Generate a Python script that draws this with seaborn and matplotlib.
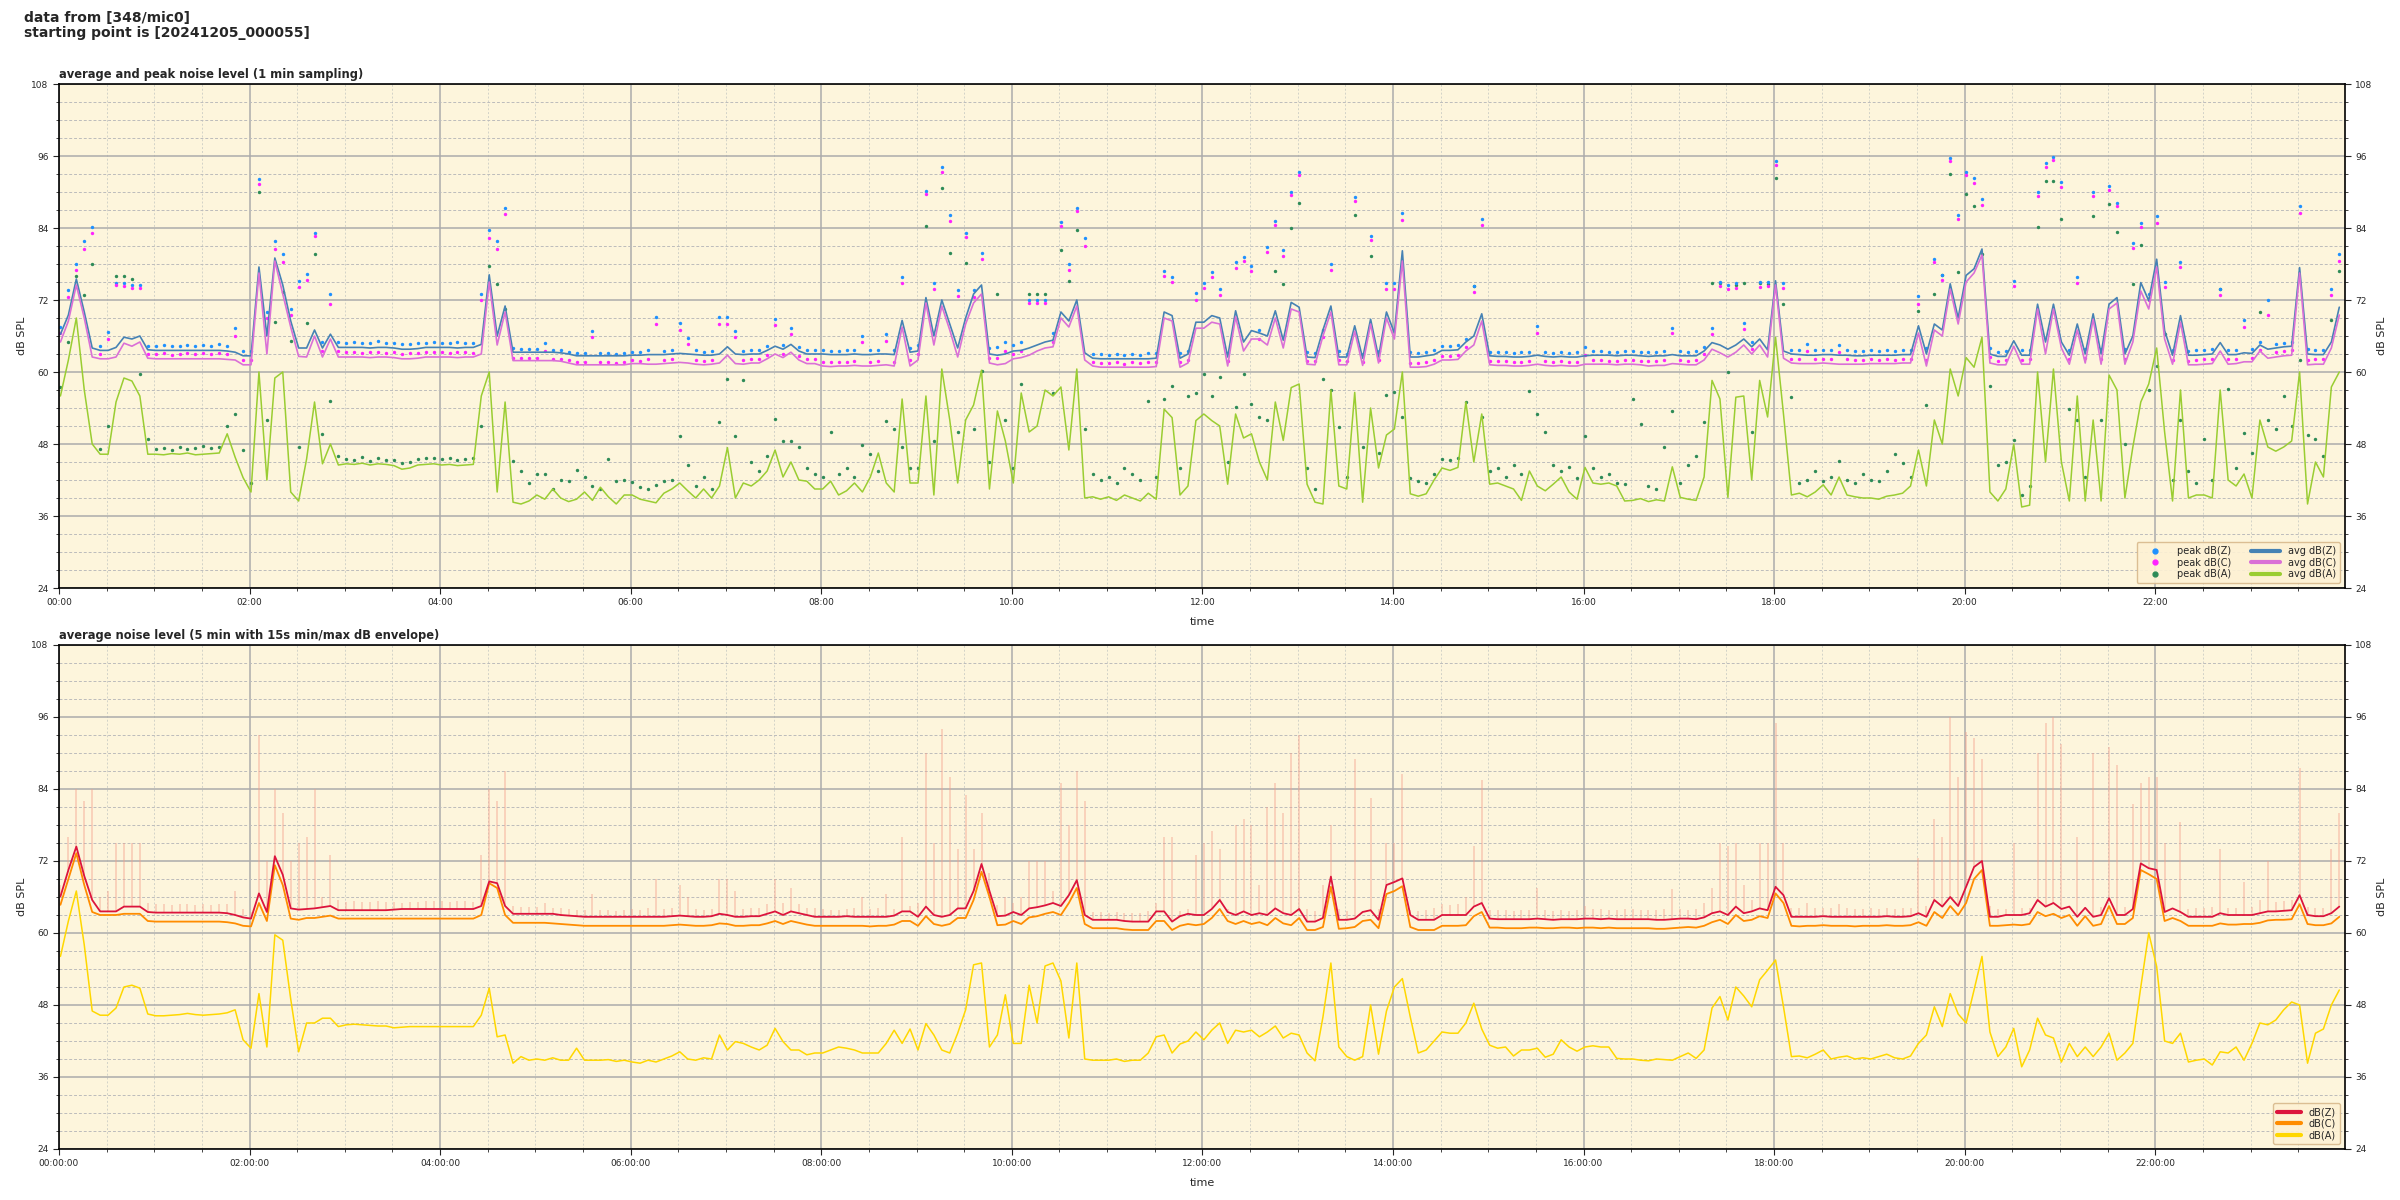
import numpy as np
import pandas as pd
import matplotlib
matplotlib.use("Agg")
import matplotlib.pyplot as plt
import matplotlib.dates as mdates
from matplotlib.ticker import MultipleLocator
from matplotlib.lines import Line2D
import seaborn as sns

sns.set_style("ticks")
plt.rcParams['font.family'] = ['DejaVu Sans']

# ---------------- data (5-minute bins from 00:00:55) ----------------
START = "2024-12-05 00:00:55"

AVG_Z = [
 66.3, 69.5, 75.5, 70.0, 64.0, 63.6, 63.6, 64.1, 65.8, 65.5, 66.0, 63.7,
 63.6, 63.6, 63.6, 63.6, 63.6, 63.6, 63.6, 63.6, 63.6, 63.5, 63.3, 62.7,
 62.7, 77.5, 66.0, 79.0, 74.5, 68.5, 64.0, 64.0, 67.0, 64.0, 66.3, 64.1,
 64.1, 64.1, 64.1, 64.0, 64.1, 64.1, 64.0, 63.8, 63.8, 63.9, 64.1, 64.1,
 64.1, 64.1, 64.0, 64.1, 64.1, 64.6, 76.2, 66.0, 71.0, 63.3, 63.3, 63.3,
 63.3, 63.3, 63.3, 63.2, 63.0, 62.7, 62.7, 62.7, 62.7, 62.7, 62.7, 62.7,
 62.8, 62.8, 62.9, 62.9, 62.9, 63.0, 63.1, 63.0, 62.9, 62.8, 62.8, 63.0,
 64.2, 63.0, 62.9, 63.0, 63.0, 63.6, 64.3, 63.8, 64.6, 63.5, 63.0, 63.0,
 63.0, 62.9, 62.9, 62.9, 63.0, 62.9, 62.9, 63.0, 63.0, 62.9, 68.6, 63.3,
 63.5, 72.4, 66.0, 72.0, 68.0, 64.0, 69.0, 73.0, 74.5, 63.0, 62.8, 63.0,
 63.5, 63.6, 64.0, 64.5, 65.0, 65.3, 70.0, 68.5, 72.0, 63.2, 62.3, 62.2,
 62.2, 62.2, 62.2, 62.2, 62.2, 62.2, 62.3, 70.0, 69.4, 62.3, 63.0, 68.3,
 68.3, 69.4, 69.0, 62.5, 70.2, 65.0, 66.9, 66.5, 66.0, 70.2, 65.3, 71.6,
 70.8, 62.5, 62.4, 67.0, 71.0, 62.5, 62.5, 67.7, 62.3, 68.8, 62.5, 70.0,
 66.5, 80.2, 62.5, 62.5, 62.7, 62.9, 63.6, 63.6, 63.7, 65.0, 66.0, 69.7,
 62.7, 62.6, 62.6, 62.5, 62.5, 62.6, 62.8, 62.6, 62.5, 62.6, 62.5, 62.5,
 62.7, 62.8, 62.8, 62.8, 62.7, 62.8, 62.8, 62.7, 62.6, 62.7, 62.7, 62.9,
 62.7, 62.7, 62.7, 63.5, 64.9, 64.5, 63.8, 64.5, 65.5, 64.2, 65.5, 63.7,
 75.2, 63.5, 63.0, 62.9, 62.8, 62.8, 62.9, 62.9, 62.8, 62.8, 62.7, 62.7,
 62.8, 62.8, 62.8, 62.8, 62.9, 62.9, 67.7, 63.0, 68.0, 67.0, 74.7, 69.0,
 76.1, 77.2, 80.5, 63.0, 62.6, 62.6, 65.2, 62.8, 62.8, 71.3, 65.0, 71.3,
 65.0, 62.8, 68.0, 63.0, 69.7, 63.0, 71.3, 72.4, 63.0, 66.0, 74.9, 71.9,
 78.8, 66.9, 62.8, 69.4, 62.8, 62.8, 62.9, 63.0, 64.9, 62.9, 62.9, 63.2,
 63.1, 64.5, 63.8, 64.0, 64.2, 64.3, 77.4, 63.0, 62.9, 62.9, 65.0, 70.8,
]

AVG_C = [
 65.0, 68.5, 74.5, 69.0, 62.5, 62.2, 62.2, 62.5, 64.8, 64.3, 65.0, 62.3,
 62.2, 62.2, 62.2, 62.2, 62.2, 62.2, 62.2, 62.2, 62.2, 62.1, 62.0, 61.2,
 61.2, 76.5, 63.0, 78.5, 73.0, 67.5, 62.6, 62.5, 66.0, 62.5, 65.5, 62.5,
 62.5, 62.5, 62.5, 62.4, 62.5, 62.5, 62.4, 62.2, 62.2, 62.3, 62.5, 62.5,
 62.5, 62.5, 62.4, 62.5, 62.5, 63.0, 75.0, 64.5, 70.0, 61.9, 61.9, 61.9,
 61.9, 61.9, 61.9, 61.8, 61.5, 61.2, 61.2, 61.2, 61.2, 61.2, 61.2, 61.2,
 61.4, 61.4, 61.3, 61.3, 61.4, 61.5, 61.6, 61.5, 61.3, 61.2, 61.3, 61.5,
 62.8, 61.4, 61.3, 61.5, 61.5, 62.2, 63.0, 62.4, 63.3, 62.0, 61.4, 61.4,
 61.0, 60.9, 61.0, 61.0, 61.1, 61.0, 61.0, 61.1, 61.2, 61.0, 67.5, 61.0,
 62.0, 71.5, 64.5, 71.0, 67.0, 62.5, 68.0, 71.5, 73.0, 61.5, 61.2, 61.4,
 62.2, 62.4, 62.8, 63.5, 64.0, 64.2, 69.0, 67.5, 71.0, 62.0, 61.0, 60.8,
 60.8, 60.8, 60.8, 60.8, 60.8, 60.8, 60.9, 69.0, 68.5, 60.8, 61.5, 67.3,
 67.3, 68.3, 68.0, 61.0, 69.2, 63.5, 65.5, 65.5, 64.5, 69.0, 64.0, 70.5,
 70.0, 61.3, 61.2, 66.0, 70.0, 61.2, 61.2, 66.8, 61.1, 68.0, 61.5, 69.0,
 65.5, 78.5, 60.8, 60.8, 60.9, 61.3, 62.0, 62.0, 62.1, 63.5, 64.5, 68.5,
 61.2, 61.1, 61.1, 61.0, 61.0, 61.1, 61.3, 61.1, 61.0, 61.1, 61.0, 61.0,
 61.3, 61.3, 61.3, 61.3, 61.2, 61.3, 61.3, 61.2, 61.0, 61.1, 61.1, 61.4,
 61.3, 61.2, 61.2, 62.0, 63.8, 63.2, 62.5, 63.3, 64.5, 63.0, 64.5, 62.5,
 74.5, 62.3, 61.5, 61.4, 61.4, 61.4, 61.5, 61.4, 61.3, 61.3, 61.3, 61.3,
 61.4, 61.4, 61.4, 61.4, 61.5, 61.5, 66.5, 61.0, 67.0, 66.0, 73.8, 68.0,
 75.0, 76.5, 79.5, 61.5, 61.2, 61.2, 64.3, 61.3, 61.3, 70.5, 63.0, 70.5,
 64.0, 61.3, 67.0, 61.5, 68.8, 61.3, 70.5, 71.5, 61.3, 65.0, 73.5, 70.5,
 77.5, 65.5, 61.3, 68.3, 61.2, 61.2, 61.3, 61.4, 63.5, 61.3, 61.4, 61.7,
 61.7, 63.5, 62.3, 62.5, 62.7, 62.8, 76.5, 61.2, 61.3, 61.3, 64.0, 69.5,
]

AVG_A = [
 56.0, 62.0, 69.0, 57.0, 48.0, 46.3, 46.3, 55.0, 59.0, 58.5, 56.0, 46.3,
 46.3, 46.2, 46.4, 46.3, 46.5, 46.2, 46.3, 46.4, 46.5, 49.7, 45.8, 42.4,
 40.0, 60.0, 42.0, 59.0, 60.0, 40.0, 38.5, 45.5, 55.0, 44.7, 48.0, 44.5,
 44.7, 44.6, 44.8, 44.5, 44.7, 44.6, 44.4, 43.8, 44.0, 44.5, 44.6, 44.7,
 44.5, 44.6, 44.4, 44.5, 44.6, 56.0, 60.0, 40.0, 55.0, 38.3, 38.0, 38.5,
 39.5, 38.8, 40.5, 39.0, 38.4, 38.8, 40.0, 38.6, 40.8, 39.2, 38.0, 39.5,
 39.5, 38.8, 38.5, 38.2, 39.8, 40.5, 41.5, 40.2, 39.0, 40.5, 39.0, 41.0,
 47.4, 39.0, 41.5, 41.0, 42.0, 43.5, 47.0, 42.5, 45.0, 42.0, 41.8, 40.5,
 40.5, 41.8, 39.5, 40.2, 41.5, 40.0, 42.5, 46.5, 41.5, 40.0, 55.5, 41.5,
 41.5, 56.0, 39.5, 60.5, 52.0, 41.5, 52.0, 54.5, 60.3, 40.5, 53.5, 48.5,
 41.5, 56.5, 50.0, 51.0, 57.0, 56.0, 57.5, 47.0, 60.5, 39.0, 39.2, 38.8,
 39.2, 38.6, 39.5, 39.0, 38.5, 39.8, 38.8, 53.8, 52.4, 39.5, 41.0, 51.9,
 53.0, 51.9, 51.0, 41.3, 53.0, 49.0, 49.7, 45.0, 42.0, 55.0, 48.6, 57.4,
 58.0, 41.3, 38.3, 38.0, 57.0, 41.0, 40.5, 56.6, 38.3, 54.0, 44.0, 49.5,
 50.5, 60.0, 39.7, 39.3, 39.7, 42.0, 44.0, 43.6, 44.1, 55.0, 45.0, 53.0,
 41.3, 41.5, 41.0, 40.5, 38.6, 43.5, 41.0, 40.2, 41.3, 42.5, 40.0, 38.8,
 44.1, 41.5, 41.3, 41.5, 41.0, 38.5, 38.6, 38.9, 38.4, 38.7, 38.5, 44.2,
 39.1, 38.8, 38.6, 42.5, 58.6, 55.5, 39.1, 55.8, 56.0, 42.0, 58.6, 52.5,
 65.8, 53.0, 39.5, 39.8, 39.2, 40.0, 41.2, 39.5, 42.5, 39.5, 39.2, 39.0,
 39.0, 38.8, 39.3, 39.5, 39.8, 41.0, 47.0, 41.0, 52.0, 48.0, 60.5, 56.0,
 62.4, 60.8, 65.8, 40.0, 38.5, 40.5, 48.0, 37.5, 37.8, 60.0, 45.0, 60.5,
 45.0, 38.5, 56.0, 38.5, 52.0, 38.5, 59.5, 57.0, 39.0, 47.5, 55.0, 58.0,
 64.0, 50.0, 38.5, 57.0, 39.0, 39.5, 39.5, 39.0, 57.0, 42.0, 41.0, 43.0,
 39.0, 52.0, 47.5, 46.8, 47.5, 48.5, 60.0, 38.0, 45.0, 42.5, 57.5, 60.0,
]

PEAK_Z = [
 67.5, 73.6, 78.0, 81.9, 84.1, 64.4, 66.6, 74.9, 74.8, 74.5, 74.5, 64.4,
 64.4, 64.5, 64.3, 64.4, 64.5, 64.4, 64.5, 64.4, 64.6, 64.4, 67.3, 63.5,
 63.5, 92.2, 70.0, 81.9, 79.7, 70.5, 75.2, 76.3, 83.2, 65.0, 73.0, 65.0,
 64.9, 65.0, 64.8, 64.9, 65.1, 64.8, 64.9, 64.6, 64.7, 64.8, 64.9, 65.0,
 64.9, 64.8, 65.0, 64.9, 64.8, 73.0, 83.6, 81.9, 87.4, 64.0, 63.8, 63.9,
 63.8, 64.8, 63.7, 63.6, 63.4, 63.1, 63.1, 66.9, 63.2, 63.1, 63.0, 63.1,
 63.4, 63.3, 63.6, 69.2, 63.5, 63.6, 68.2, 65.7, 63.6, 63.4, 63.5, 69.1,
 69.1, 66.9, 63.5, 63.6, 63.7, 64.3, 68.8, 64.5, 67.4, 64.2, 63.6, 63.7,
 63.6, 63.5, 63.5, 63.6, 63.7, 66.0, 63.6, 63.7, 66.4, 63.6, 75.9, 64.0,
 64.5, 90.2, 74.8, 94.2, 86.2, 73.6, 83.2, 73.6, 79.8, 64.0, 64.2, 65.0,
 64.5, 65.0, 72.0, 72.0, 72.0, 66.5, 85.0, 78.0, 87.4, 82.3, 63.0, 63.0,
 62.9, 63.0, 62.8, 63.0, 62.9, 63.1, 63.2, 76.8, 75.9, 63.2, 63.5, 73.1,
 74.9, 76.6, 73.8, 63.2, 78.3, 79.1, 77.7, 67.0, 80.8, 85.2, 80.3, 90.0,
 93.4, 63.3, 63.1, 67.0, 78.0, 63.5, 63.0, 89.1, 63.0, 82.6, 63.5, 74.8,
 74.8, 86.5, 63.3, 63.2, 63.4, 63.7, 64.4, 64.3, 64.5, 65.5, 74.4, 85.5,
 63.3, 63.4, 63.3, 63.2, 63.3, 63.3, 67.6, 63.3, 63.2, 63.4, 63.2, 63.3,
 64.1, 63.5, 63.5, 63.4, 63.4, 63.5, 63.5, 63.4, 63.3, 63.4, 63.5, 67.3,
 63.5, 63.4, 63.5, 64.2, 67.3, 75.0, 74.5, 74.8, 68.1, 65.0, 75.0, 75.0,
 95.1, 74.9, 63.7, 63.6, 64.7, 63.6, 63.7, 63.6, 64.5, 63.6, 63.5, 63.5,
 63.6, 63.5, 63.6, 63.5, 63.6, 63.7, 72.7, 64.0, 78.8, 76.2, 95.7, 86.2,
 93.4, 92.3, 88.8, 64.0, 63.4, 63.5, 75.2, 63.6, 63.6, 90.0, 94.9, 95.9,
 91.6, 63.7, 75.8, 63.8, 90.0, 63.8, 91.0, 88.2, 63.8, 81.5, 84.8, 73.0,
 86.0, 75.0, 63.6, 78.4, 63.5, 63.6, 63.7, 63.8, 73.8, 63.7, 63.7, 68.6,
 63.9, 65.0, 72.0, 64.7, 64.9, 65.0, 87.7, 63.8, 63.7, 63.7, 73.8, 79.7,
]

PEAK_C = [
 66.5, 72.5, 77.0, 80.5, 83.2, 63.0, 65.5, 74.5, 74.3, 74.0, 74.0, 63.0,
 63.0, 63.1, 62.9, 63.0, 63.1, 63.0, 63.1, 63.0, 63.2, 63.0, 66.0, 62.0,
 62.0, 91.4, 69.0, 80.5, 78.3, 69.5, 74.2, 75.3, 82.6, 63.5, 71.4, 63.5,
 63.3, 63.4, 63.2, 63.3, 63.4, 63.2, 63.3, 63.0, 63.1, 63.2, 63.3, 63.4,
 63.3, 63.2, 63.4, 63.3, 63.2, 72.0, 82.3, 80.5, 86.4, 62.4, 62.3, 62.4,
 62.3, 63.5, 62.2, 62.2, 62.0, 61.7, 61.6, 65.8, 61.7, 61.6, 61.5, 61.6,
 62.0, 61.9, 62.1, 68.0, 62.0, 62.1, 67.0, 64.6, 62.0, 61.9, 62.0, 68.0,
 68.0, 65.8, 62.0, 62.1, 62.2, 62.8, 67.8, 63.0, 66.3, 62.7, 62.1, 62.2,
 61.7, 61.6, 61.7, 61.7, 61.8, 65.0, 61.7, 61.8, 65.2, 61.7, 74.8, 62.0,
 63.0, 89.7, 73.8, 93.3, 85.2, 72.6, 82.5, 72.5, 78.8, 62.3, 62.4, 63.5,
 63.0, 63.5, 71.5, 71.5, 71.5, 65.0, 84.4, 77.0, 86.8, 81.0, 61.6, 61.5,
 61.5, 61.6, 61.4, 61.6, 61.5, 61.7, 61.7, 76.0, 75.0, 61.7, 62.0, 72.0,
 74.0, 75.8, 72.8, 61.8, 77.3, 78.5, 76.8, 65.5, 80.0, 84.5, 79.3, 89.5,
 92.8, 61.9, 61.8, 65.8, 77.0, 62.0, 61.8, 88.5, 61.7, 82.0, 62.0, 73.8,
 73.8, 85.3, 61.5, 61.5, 61.6, 62.0, 62.7, 62.7, 62.8, 64.2, 73.4, 84.5,
 61.8, 61.8, 61.8, 61.7, 61.7, 61.8, 66.5, 61.8, 61.7, 61.8, 61.7, 61.7,
 62.8, 62.0, 62.0, 61.9, 61.9, 62.0, 62.0, 61.9, 61.8, 61.9, 62.0, 66.5,
 62.0, 61.9, 62.0, 63.0, 66.3, 74.3, 73.8, 74.0, 67.2, 63.8, 74.2, 74.3,
 94.5, 74.0, 62.2, 62.1, 63.5, 62.1, 62.2, 62.1, 63.3, 62.1, 62.0, 62.0,
 62.1, 62.0, 62.1, 62.0, 62.1, 62.2, 71.3, 62.0, 78.3, 75.3, 95.1, 85.5,
 92.8, 91.5, 87.8, 62.5, 61.9, 62.0, 74.3, 62.0, 62.1, 89.4, 94.2, 95.3,
 90.8, 62.1, 74.8, 62.3, 89.3, 62.2, 90.4, 87.6, 62.2, 80.7, 84.1, 72.0,
 84.8, 74.2, 62.0, 77.5, 61.9, 62.0, 62.1, 62.2, 72.8, 62.1, 62.2, 67.5,
 62.4, 63.7, 69.5, 63.3, 63.5, 63.6, 86.5, 62.0, 62.1, 62.1, 72.8, 78.5,
]

PEAK_A = [
 57.5, 65.0, 76.0, 72.8, 78.0, 47.2, 51.0, 76.0, 76.0, 75.5, 59.7, 48.8,
 47.2, 47.3, 47.0, 47.5, 47.2, 47.4, 47.6, 47.3, 47.5, 51.0, 53.0, 47.0,
 41.5, 90.0, 52.0, 68.3, 73.3, 65.2, 47.5, 68.1, 79.7, 49.7, 55.2, 46.0,
 45.5, 45.3, 45.8, 45.2, 45.6, 45.4, 45.3, 44.8, 45.0, 45.5, 45.6, 45.7,
 45.5, 45.6, 45.3, 45.5, 45.6, 51.0, 77.7, 74.7, 70.5, 45.2, 43.5, 41.5,
 43.0, 43.0, 40.5, 42.0, 41.8, 43.6, 42.5, 41.0, 40.5, 45.5, 41.8, 42.0,
 41.6, 40.8, 40.5, 41.2, 41.8, 42.0, 49.4, 44.5, 41.0, 42.5, 40.5, 51.6,
 58.8, 49.4, 58.6, 45.0, 43.5, 46.0, 52.2, 48.5, 48.5, 47.5, 44.0, 43.0,
 42.5, 50.0, 43.0, 44.0, 42.5, 47.8, 46.3, 43.5, 51.9, 50.5, 47.5, 44.0,
 44.0, 84.3, 48.5, 90.6, 79.9, 50.0, 78.2, 50.5, 60.2, 45.0, 73.0, 52.0,
 44.0, 58.0, 73.0, 73.0, 73.0, 56.5, 80.4, 75.2, 83.6, 50.5, 43.0, 42.0,
 42.5, 41.5, 44.0, 43.0, 42.0, 55.2, 42.5, 55.5, 57.7, 44.0, 56.0, 56.5,
 59.7, 56.0, 59.1, 45.0, 54.1, 59.7, 54.7, 52.5, 52.0, 76.9, 74.7, 84.0,
 88.1, 44.0, 40.5, 58.8, 57.0, 50.8, 42.5, 86.2, 47.5, 79.3, 46.5, 56.1,
 56.6, 52.5, 42.4, 41.8, 41.5, 43.0, 45.5, 45.3, 45.6, 55.0, 74.4, 52.5,
 43.5, 44.0, 42.5, 44.5, 43.0, 56.9, 53.0, 50.0, 44.5, 43.5, 44.2, 42.4,
 49.4, 44.0, 42.5, 43.0, 41.5, 41.3, 55.5, 51.3, 41.0, 40.5, 47.5, 53.5,
 41.5, 44.5, 46.0, 51.6, 74.9, 74.9, 60.0, 74.5, 74.9, 50.0, 74.9, 74.7,
 92.4, 71.3, 55.8, 41.5, 42.0, 43.5, 41.8, 42.5, 45.2, 42.0, 41.5, 43.0,
 42.0, 41.8, 43.5, 46.3, 44.8, 42.5, 70.2, 54.5, 73.0, 76.2, 93.0, 76.6,
 89.7, 87.7, 79.7, 57.7, 44.5, 45.0, 48.6, 39.5, 41.0, 84.1, 91.9, 91.8,
 85.5, 53.8, 52.0, 42.5, 86.0, 52.0, 88.0, 83.3, 48.0, 74.7, 81.2, 57.0,
 61.0, 66.3, 42.0, 52.0, 43.5, 41.5, 48.8, 42.0, 73.8, 57.2, 44.0, 49.9,
 46.5, 70.0, 52.0, 50.5, 56.0, 51.0, 62.0, 49.5, 48.8, 46.0, 68.6, 76.9,
]

# bottom panel: 5 min averages and 15 s max envelope
Z5 = [
 66.1, 70.5, 74.4, 69.5, 65.5, 63.6, 63.6, 63.6, 64.4, 64.4, 64.4, 63.5,
 63.4, 63.4, 63.4, 63.4, 63.4, 63.4, 63.4, 63.4, 63.4, 63.3, 63.0, 62.6,
 62.4, 66.6, 63.5, 72.8, 69.7, 64.1, 63.9, 64.0, 64.1, 64.3, 64.5, 63.8,
 63.8, 63.8, 63.8, 63.8, 63.8, 63.8, 63.9, 64.0, 64.0, 64.0, 64.0, 64.0,
 64.0, 64.0, 64.0, 64.0, 64.0, 64.5, 68.6, 68.3, 64.5, 63.2, 63.2, 63.2,
 63.2, 63.2, 63.2, 63.0, 62.9, 62.8, 62.7, 62.7, 62.7, 62.7, 62.7, 62.7,
 62.7, 62.7, 62.7, 62.7, 62.7, 62.8, 62.9, 62.8, 62.7, 62.7, 62.8, 63.2,
 63.0, 62.7, 62.7, 62.8, 62.8, 63.2, 63.6, 63.0, 63.6, 63.3, 63.0, 62.7,
 62.7, 62.7, 62.7, 62.8, 62.7, 62.7, 62.7, 62.7, 62.7, 62.9, 63.6, 63.6,
 62.7, 64.4, 63.0, 62.7, 63.0, 64.1, 64.1, 67.0, 71.5, 67.0, 62.8, 62.9,
 63.5, 63.0, 64.1, 64.3, 64.6, 65.0, 64.5, 66.3, 68.8, 63.0, 62.2, 62.2,
 62.2, 62.2, 62.0, 61.9, 61.9, 61.9, 63.6, 63.6, 61.9, 62.8, 63.2, 63.0,
 63.0, 64.0, 65.5, 63.5, 63.0, 63.6, 63.0, 63.3, 63.0, 64.1, 63.3, 63.0,
 64.0, 61.9, 61.9, 62.5, 69.4, 62.2, 62.2, 62.4, 63.5, 63.8, 62.2, 68.0,
 68.5, 69.1, 63.0, 62.2, 62.2, 62.2, 63.0, 63.0, 63.0, 63.0, 64.4, 65.0,
 62.4, 62.3, 62.3, 62.3, 62.3, 62.3, 62.4, 62.3, 62.2, 62.3, 62.3, 62.3,
 62.4, 62.4, 62.3, 62.4, 62.3, 62.3, 62.3, 62.3, 62.3, 62.2, 62.2, 62.3,
 62.4, 62.4, 62.3, 62.6, 63.3, 63.6, 63.0, 64.4, 63.3, 63.6, 64.1, 63.8,
 67.7, 66.3, 62.7, 62.7, 62.7, 62.7, 62.8, 62.7, 62.7, 62.7, 62.7, 62.7,
 62.7, 62.7, 62.8, 62.7, 62.7, 62.8, 63.3, 62.7, 65.5, 64.4, 66.0, 64.5,
 67.7, 71.0, 72.0, 62.7, 62.7, 63.0, 63.0, 63.0, 63.3, 65.5, 64.4, 65.0,
 64.0, 64.4, 62.7, 64.2, 62.7, 63.0, 65.8, 63.0, 63.0, 64.0, 71.6, 70.8,
 70.5, 63.5, 64.1, 63.5, 62.7, 62.7, 62.7, 62.7, 63.3, 63.0, 63.0, 63.0,
 63.0, 63.3, 63.6, 63.6, 63.7, 63.8, 66.3, 63.0, 62.8, 62.8, 63.3, 64.4,
]

C5 = [
 64.7, 69.0, 73.3, 68.0, 63.5, 63.0, 63.0, 63.0, 63.2, 63.2, 63.2, 62.0,
 61.9, 61.9, 61.9, 61.9, 61.9, 61.9, 61.9, 61.9, 61.9, 61.8, 61.6, 61.2,
 61.1, 65.0, 62.0, 71.3, 68.0, 62.4, 62.2, 62.5, 62.5, 62.7, 62.9, 62.4,
 62.4, 62.4, 62.4, 62.4, 62.4, 62.4, 62.4, 62.4, 62.4, 62.4, 62.4, 62.4,
 62.4, 62.4, 62.4, 62.4, 62.4, 63.0, 68.3, 67.5, 63.0, 61.7, 61.7, 61.7,
 61.7, 61.7, 61.6, 61.5, 61.4, 61.3, 61.2, 61.2, 61.2, 61.2, 61.2, 61.2,
 61.2, 61.2, 61.2, 61.2, 61.2, 61.3, 61.4, 61.3, 61.2, 61.2, 61.3, 61.6,
 61.5, 61.2, 61.2, 61.3, 61.3, 61.6, 62.0, 61.5, 62.0, 61.7, 61.4, 61.2,
 61.2, 61.2, 61.2, 61.2, 61.2, 61.2, 61.1, 61.2, 61.2, 61.4, 62.0, 62.0,
 61.2, 62.8, 61.5, 61.2, 61.5, 62.5, 62.5, 65.5, 70.2, 66.0, 61.3, 61.4,
 62.0, 61.5, 62.6, 62.8, 63.2, 63.5, 63.0, 65.0, 67.5, 61.5, 60.8, 60.8,
 60.8, 60.8, 60.6, 60.5, 60.5, 60.5, 62.0, 62.0, 60.5, 61.2, 61.5, 61.3,
 61.5, 62.5, 64.0, 62.0, 61.5, 62.0, 61.5, 61.8, 61.3, 62.5, 61.6, 61.3,
 62.5, 60.5, 60.5, 61.0, 67.7, 60.7, 60.8, 61.0, 62.0, 62.2, 60.8, 66.5,
 67.0, 67.8, 61.0, 60.5, 60.5, 60.5, 61.2, 61.2, 61.2, 61.3, 62.8, 63.5,
 60.9, 60.9, 60.8, 60.8, 60.8, 60.9, 60.9, 60.8, 60.8, 60.9, 60.9, 60.8,
 60.9, 60.9, 60.8, 60.9, 60.8, 60.8, 60.8, 60.8, 60.8, 60.7, 60.7, 60.8,
 60.9, 61.0, 60.9, 61.2, 61.8, 62.2, 61.5, 63.0, 62.0, 62.2, 62.8, 62.5,
 66.6, 65.0, 61.2, 61.1, 61.2, 61.2, 61.3, 61.2, 61.2, 61.2, 61.1, 61.2,
 61.2, 61.2, 61.3, 61.2, 61.2, 61.3, 61.8, 61.2, 63.5, 62.5, 64.5, 63.0,
 65.0, 69.0, 70.5, 61.2, 61.2, 61.3, 61.4, 61.3, 61.5, 63.5, 62.8, 63.2,
 62.5, 63.0, 61.2, 62.8, 61.2, 61.5, 64.5, 61.5, 61.5, 62.5, 70.5, 69.8,
 69.0, 62.0, 62.5, 62.0, 61.2, 61.2, 61.2, 61.2, 61.6, 61.4, 61.4, 61.5,
 61.5, 61.7, 62.1, 62.2, 62.2, 62.3, 64.8, 61.5, 61.3, 61.3, 61.6, 62.7,
]

A5 = [
 56.1, 62.0, 67.0, 58.0, 47.0, 46.3, 46.3, 47.5, 51.0, 51.3, 50.8, 46.5,
 46.2, 46.2, 46.3, 46.4, 46.6, 46.4, 46.3, 46.4, 46.5, 46.7, 47.2, 42.2,
 40.8, 49.9, 41.0, 59.7, 58.8, 49.0, 40.2, 45.0, 45.0, 45.8, 45.8, 44.4,
 44.7, 44.8, 44.7, 44.6, 44.5, 44.5, 44.2, 44.3, 44.4, 44.4, 44.4, 44.4,
 44.4, 44.4, 44.4, 44.4, 44.4, 46.3, 50.8, 42.7, 43.0, 38.3, 39.4, 38.8,
 39.0, 38.8, 39.2, 38.8, 38.8, 40.8, 38.8, 38.8, 38.8, 38.9, 38.6, 38.8,
 38.5, 38.3, 38.8, 38.5, 39.0, 39.5, 40.2, 39.0, 38.8, 39.2, 39.0, 43.0,
 40.5, 41.9, 41.6, 41.0, 40.5, 41.3, 44.1, 41.9, 40.5, 40.5, 39.7, 40.0,
 40.0, 40.5, 41.0, 40.8, 40.5, 40.0, 40.0, 40.0, 41.6, 43.8, 41.6, 44.0,
 40.5, 44.9, 43.0, 40.5, 40.0, 43.3, 47.2, 54.7, 55.0, 41.0, 43.0, 49.7,
 41.6, 41.6, 51.3, 45.0, 54.5, 55.0, 52.0, 42.5, 55.0, 39.0, 38.8, 38.8,
 38.8, 39.0, 38.6, 38.8, 38.8, 40.0, 42.7, 43.0, 40.0, 41.5, 42.0, 43.5,
 42.2, 43.8, 45.0, 41.6, 43.8, 43.5, 43.8, 42.7, 43.5, 44.5, 42.5, 43.3,
 43.0, 40.0, 38.7, 46.0, 55.0, 41.0, 39.4, 38.8, 39.4, 48.0, 39.8, 47.0,
 51.0, 52.4, 46.0, 40.0, 40.5, 42.0, 43.5, 43.3, 43.3, 45.0, 48.3, 44.0,
 41.3, 40.8, 41.0, 39.5, 40.5, 40.5, 40.8, 39.3, 39.8, 42.2, 41.0, 40.3,
 41.0, 41.2, 41.0, 41.0, 39.1, 39.0, 39.0, 38.8, 38.7, 39.0, 38.9, 38.8,
 39.4, 40.0, 39.1, 40.5, 47.5, 49.4, 45.5, 51.0, 49.5, 47.7, 52.2, 53.8,
 55.5, 47.7, 39.4, 39.5, 39.2, 39.8, 40.5, 39.0, 39.3, 39.5, 39.0, 39.2,
 39.0, 39.4, 39.8, 39.2, 39.0, 39.5, 41.6, 43.0, 47.7, 44.4, 49.9, 46.5,
 45.0, 50.5, 56.1, 43.5, 39.4, 41.0, 44.1, 37.7, 40.5, 45.8, 43.0, 42.5,
 38.5, 41.6, 39.4, 41.0, 39.4, 41.0, 43.3, 38.8, 40.0, 41.6, 51.0, 60.0,
 54.4, 42.0, 41.6, 43.3, 38.5, 38.8, 39.0, 38.0, 40.2, 40.0, 41.0, 38.8,
 41.6, 45.0, 44.7, 45.5, 47.2, 48.5, 48.0, 38.3, 43.3, 44.0, 48.0, 50.5,
]

ENV_HI = [
 68.0, 76.0, 84.0, 82.0, 84.0, 66.0, 67.0, 75.0, 75.0, 75.0, 75.0, 65.0,
 64.8, 64.8, 64.6, 64.8, 64.9, 64.7, 64.8, 64.7, 64.9, 64.8, 67.0, 64.0,
 63.5, 93.0, 72.0, 84.0, 80.0, 72.0, 75.0, 76.0, 84.0, 66.0, 73.0, 65.5,
 65.2, 65.3, 65.1, 65.2, 65.4, 65.1, 65.2, 65.0, 65.1, 65.2, 65.3, 65.3,
 65.3, 65.2, 65.4, 65.3, 65.2, 73.0, 84.0, 82.0, 87.0, 64.5, 64.3, 64.4,
 64.3, 65.0, 64.2, 64.1, 64.0, 63.8, 63.8, 66.5, 63.9, 63.8, 63.7, 63.8,
 64.0, 63.9, 64.1, 69.0, 64.0, 64.2, 68.0, 66.0, 64.0, 63.9, 64.0, 69.0,
 69.0, 67.0, 64.0, 64.1, 64.2, 64.8, 69.0, 65.0, 67.5, 64.8, 64.2, 64.1,
 64.0, 63.9, 63.9, 64.0, 64.1, 66.0, 64.0, 64.1, 66.5, 64.0, 76.0, 64.5,
 65.0, 90.0, 75.0, 94.0, 86.0, 74.0, 83.0, 74.0, 80.0, 70.0, 64.6, 66.0,
 65.0, 66.0, 72.0, 72.0, 72.0, 67.0, 85.0, 78.0, 87.0, 82.0, 63.5, 63.5,
 63.4, 63.5, 63.3, 63.4, 63.4, 63.6, 65.0, 76.0, 76.0, 63.7, 64.0, 73.0,
 75.0, 77.0, 74.0, 64.0, 78.0, 79.0, 78.0, 68.0, 81.0, 85.0, 80.0, 90.0,
 93.0, 64.0, 63.6, 68.0, 78.0, 64.0, 63.6, 89.0, 63.5, 82.5, 64.0, 75.0,
 75.0, 86.5, 63.8, 63.7, 63.9, 64.2, 64.8, 64.7, 64.9, 66.0, 74.5, 85.5,
 63.8, 63.9, 63.8, 63.7, 63.8, 63.8, 67.5, 63.8, 63.7, 63.9, 63.7, 63.8,
 64.5, 64.0, 64.0, 63.9, 63.9, 64.0, 64.0, 63.9, 63.8, 63.9, 64.0, 67.3,
 64.0, 63.9, 64.0, 65.0, 67.5, 75.0, 74.5, 75.0, 68.0, 65.5, 75.0, 75.0,
 95.0, 75.0, 64.2, 64.1, 65.0, 64.1, 64.2, 64.1, 64.8, 64.1, 64.0, 64.0,
 64.1, 64.0, 64.1, 64.0, 64.1, 64.2, 72.5, 64.5, 79.0, 76.0, 96.0, 86.0,
 93.5, 92.5, 89.0, 64.5, 64.0, 64.0, 75.0, 64.1, 64.1, 90.0, 95.0, 96.0,
 91.5, 64.2, 76.0, 64.3, 90.0, 64.3, 91.0, 88.0, 64.3, 81.5, 85.0, 86.0,
 86.0, 75.0, 64.1, 78.5, 64.0, 64.1, 64.2, 64.3, 74.0, 64.2, 64.2, 68.5,
 64.4, 65.5, 72.0, 65.2, 65.4, 65.5, 87.5, 64.3, 64.2, 64.2, 74.0, 80.0,
]

# ---------------- styling ----------------
BG = '#fdf5dc'
COL_PZ, COL_PC, COL_PA = '#1e90ff', '#ff22ff', '#2e8b57'
COL_AZ, COL_AC, COL_AA = '#4682b4', '#da70d6', '#9acd32'
COL_Z, COL_C, COL_A = '#dc143c', '#ff8c00', '#ffd700'
COL_ENV = '#f4a08c'

times = pd.date_range(START, periods=len(AVG_Z), freq="5min")
XMIN = pd.Timestamp("2024-12-05 00:00:00")
XMAX = pd.Timestamp("2024-12-05 23:59:30")

fig = plt.figure(figsize=(24, 12), dpi=100)
fig.patch.set_facecolor('white')
fig.text(0.0102, 0.991, "data from [348/mic0]\nstarting point is [20241205_000055]",
         fontsize=10, fontweight='bold', va='top', ha='left', linespacing=1.15)

ax1 = fig.add_axes([0.02458, 0.51, 0.9525, 0.42])
ax2 = fig.add_axes([0.02458, 0.0425, 0.9525, 0.42])


def style_axes(ax, fmt, title):
    ax.set_facecolor(BG)
    ax.set_ylim(24, 108)
    ax.set_xlim(XMIN, XMAX)
    ax.yaxis.set_major_locator(MultipleLocator(12))
    ax.yaxis.set_minor_locator(MultipleLocator(3))
    ax.xaxis.set_major_locator(mdates.HourLocator(byhour=range(0, 24, 2)))
    ax.xaxis.set_minor_locator(mdates.MinuteLocator(byminute=[0, 30]))
    ax.xaxis.set_major_formatter(mdates.DateFormatter(fmt))
    ax.grid(which='major', color='#ababab', lw=1.1, ls='-')
    ax.grid(which='minor', axis='y', color='#bcbcbc', lw=0.7, ls=(0, (3, 2)))
    ax.grid(which='minor', axis='x', color='#d2d2c8', lw=0.7, ls=(0, (2, 2)))
    ax.set_axisbelow(True)
    ax.tick_params(which='major', labelsize=6.5, length=4, width=0.8, direction='out',
                   right=True, labelright=True)
    ax.tick_params(which='minor', length=2.5, width=0.6, right=True)
    ax.set_xlabel('time', fontsize=8, labelpad=7)
    ax.set_ylabel('dB SPL', fontsize=8, labelpad=3)
    ax.text(1.0162, 0.5, 'dB SPL', transform=ax.transAxes, rotation=90,
            ha='center', va='center', fontsize=8)
    ax.set_title(title, loc='left', fontsize=8.3, fontweight='bold', pad=4)
    for s in ax.spines.values():
        s.set_linewidth(1.2)
        s.set_color('black')


# ---- top panel ----
sns.lineplot(x=times, y=AVG_A, ax=ax1, color=COL_AA, lw=1.1, legend=False)
sns.lineplot(x=times, y=AVG_Z, ax=ax1, color=COL_AZ, lw=1.2, legend=False)
sns.lineplot(x=times, y=AVG_C, ax=ax1, color=COL_AC, lw=1.2, legend=False)
sns.scatterplot(x=times, y=PEAK_A, ax=ax1, color=COL_PA, s=6, linewidth=0, legend=False)
sns.scatterplot(x=times, y=PEAK_Z, ax=ax1, color=COL_PZ, s=6, linewidth=0, legend=False)
sns.scatterplot(x=times, y=PEAK_C, ax=ax1, color=COL_PC, s=6, linewidth=0, legend=False)
style_axes(ax1, '%H:%M', 'average and peak noise level (1 min sampling)')

h_top = [
    Line2D([], [], ls='', marker='o', ms=3.5, color=COL_PZ, label='peak dB(Z)'),
    Line2D([], [], ls='', marker='o', ms=3.5, color=COL_PC, label='peak dB(C)'),
    Line2D([], [], ls='', marker='o', ms=3.5, color=COL_PA, label='peak dB(A)'),
    Line2D([], [], color=COL_AZ, lw=3, label='avg dB(Z)'),
    Line2D([], [], color=COL_AC, lw=3, label='avg dB(C)'),
    Line2D([], [], color=COL_AA, lw=3, label='avg dB(A)'),
]
leg1 = ax1.legend(handles=h_top, ncol=2, loc='lower right', fontsize=7, frameon=True,
                  facecolor='#fdf1d4', edgecolor='#d8b98c', framealpha=0.9,
                  borderaxespad=0.5, columnspacing=2.0, handlelength=3.0,
                  labelspacing=0.15, borderpad=0.4)
leg1.get_frame().set_linewidth(1.0)

# ---- bottom panel ----
# 15 s min/max envelope drawn as thin pale vertical strokes
ax2.vlines(times, Z5, ENV_HI, color=COL_ENV, alpha=0.45, lw=1.3)
sns.lineplot(x=times, y=A5, ax=ax2, color=COL_A, lw=1.1, legend=False)
sns.lineplot(x=times, y=C5, ax=ax2, color=COL_C, lw=1.3, legend=False)
sns.lineplot(x=times, y=Z5, ax=ax2, color=COL_Z, lw=1.3, legend=False)
style_axes(ax2, '%H:%M:%S', 'average noise level (5 min with 15s min/max dB envelope)')

h_bot = [
    Line2D([], [], color=COL_Z, lw=3, label='dB(Z)'),
    Line2D([], [], color=COL_C, lw=3, label='dB(C)'),
    Line2D([], [], color=COL_A, lw=3, label='dB(A)'),
]
leg2 = ax2.legend(handles=h_bot, loc='lower right', fontsize=7, frameon=True,
                  facecolor='#fdf1d4', edgecolor='#d8b98c', framealpha=0.9,
                  borderaxespad=0.5, handlelength=2.5, labelspacing=0.15, borderpad=0.4)
leg2.get_frame().set_linewidth(1.0)

fig.savefig('out.png', dpi=100, facecolor='white')
